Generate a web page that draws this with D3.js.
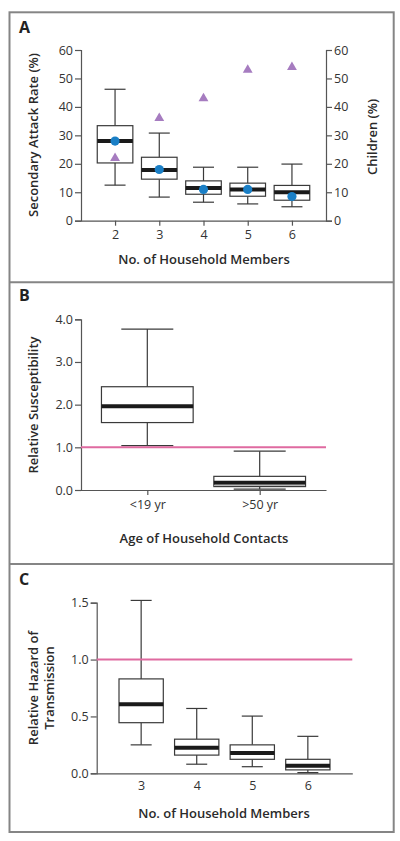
<!DOCTYPE html>
<html><head><meta charset="utf-8">
<script src="https://cdn.jsdelivr.net/npm/d3@7"></script>
<style>body{margin:0;background:#fff;} svg{display:block;} text{font-family:"Open Sans",Lato,sans-serif;fill:#333;}</style>
</head><body><svg id="c" width="400" height="841"></svg>
<script>
// Panel A data
const aCats = ["2","3","4","5","6"];
const aWhiskLo = [12.5, 8.3, 6.5, 5.9, 4.9];
const aQ1 = [20.3, 14.6, 9.3, 8.6, 7.2];
const aMed = [28, 17.8, 11.5, 11, 10];
const aQ3 = [33.4, 22.3, 14, 13.2, 12.4];
const aWhiskHi = [46.2, 30.8, 18.8, 18.8, 19.9];
const aDots = [28, 18, 11, 11, 8.5];
const aChildren = [22, 36, 43, 53, 54];
const aTicks = [0,10,20,30,40,50,60];
// Panel B data
const bCats = ["<19 yr", ">50 yr"];
const bWhiskLo = [1.04, 0.02];
const bQ1 = [1.58, 0.08];
const bMed = [1.96, 0.17];
const bQ3 = [2.42, 0.32];
const bWhiskHi = [3.77, 0.91];
const bTicks = [0,1,2,3,4];
// Panel C data
const cCats = ["3","4","5","6"];
const cWhiskLo = [0.25, 0.08, 0.058, 0.006];
const cQ1 = [0.445, 0.16, 0.123, 0.03];
const cMed = [0.607, 0.225, 0.178, 0.067];
const cQ3 = [0.83, 0.30, 0.25, 0.123];
const cWhiskHi = [1.52, 0.57, 0.503, 0.325];
const cTicks = [0, 0.5, 1.0, 1.5];

const svg = d3.select("#c");
const boxStroke = "#3a3a3a";
const pink = "#df6aa0";
const titleSize = 13, tickSize = 12.5;

// outer frame
const frame = svg.append("g").attr("fill","none").attr("stroke","#858585").attr("stroke-width",2);
frame.append("rect").attr("x",9.5).attr("y",12.3).attr("width",384.2).attr("height",819.7);
frame.append("line").attr("x1",9.5).attr("x2",393.7).attr("y1",282.3).attr("y2",282.3);
frame.append("line").attr("x1",9.5).attr("x2",393.7).attr("y1",564).attr("y2",564);

function panelLabel(t, y){
  svg.append("text").attr("x",19).attr("y",y).attr("font-weight","bold").attr("font-size",16).style("fill","#222").text(t);
}

function boxes(g, cats, x, y, lo, q1, med, q3, hi, bw, capw){
  cats.forEach((c,i)=>{
    const cx = x(c);
    g.append("line").attr("x1",cx).attr("x2",cx).attr("y1",y(hi[i])).attr("y2",y(q3[i])).attr("stroke",boxStroke).attr("stroke-width",1.2);
    g.append("line").attr("x1",cx).attr("x2",cx).attr("y1",y(q1[i])).attr("y2",y(lo[i])).attr("stroke",boxStroke).attr("stroke-width",1.2);
    g.append("line").attr("x1",cx-capw/2).attr("x2",cx+capw/2).attr("y1",y(hi[i])).attr("y2",y(hi[i])).attr("stroke",boxStroke).attr("stroke-width",1.2);
    g.append("line").attr("x1",cx-capw/2).attr("x2",cx+capw/2).attr("y1",y(lo[i])).attr("y2",y(lo[i])).attr("stroke",boxStroke).attr("stroke-width",1.2);
    g.append("rect").attr("x",cx-bw/2).attr("width",bw).attr("y",y(q3[i])).attr("height",y(q1[i])-y(q3[i])).attr("fill","#fff").attr("stroke",boxStroke).attr("stroke-width",1.2);
    g.append("line").attr("x1",cx-bw/2).attr("x2",cx+bw/2).attr("y1",y(med[i])).attr("y2",y(med[i])).attr("stroke","#1a1a1a").attr("stroke-width",4);
  });
}

function styleAxis(g){
  g.selectAll(".domain").attr("stroke","#555").attr("stroke-width",1.2);
  g.selectAll(".tick line").attr("stroke","#555").attr("stroke-width",1.2);
  g.selectAll(".tick text").attr("font-size",tickSize).style("fill","#333");
}
function title(g, x, y, rot, txt){
  const t = g.append("text").attr("transform",`translate(${x},${y})`+(rot?" rotate(-90)":"")).attr("text-anchor","middle").attr("font-weight",600).attr("font-size",titleSize).style("fill","#2a2a2a");
  return t.text(txt);
}

// ---------- Panel A ----------
panelLabel("A", 33);
{
  const x = d3.scalePoint().domain(aCats).range([81,326]).padding(0.77);
  const y = d3.scaleLinear().domain([0,60]).range([220.7,50]);
  const g = svg.append("g");
  const ya = g.append("g").attr("transform","translate(81,0)").call(d3.axisLeft(y).tickValues(aTicks).tickSize(6).tickPadding(2).tickFormat(d3.format("d")));
  styleAxis(ya);
  const yr = g.append("g").attr("transform","translate(326,0)").call(d3.axisRight(y).tickValues(aTicks).tickSize(6).tickPadding(2).tickFormat(d3.format("d")));
  styleAxis(yr);
  const xa = g.append("g").attr("transform","translate(0,220.7)").call(d3.axisBottom(x).tickSize(5).tickPadding(4).tickSizeOuter(0));
  styleAxis(xa);
  boxes(g, aCats, x, y, aWhiskLo, aQ1, aMed, aQ3, aWhiskHi, 35.6, 21);
  const tri = d3.symbol().type(d3.symbolTriangle).size(42);
  g.selectAll(".tri").data(aChildren).join("path").attr("transform",(d,i)=>`translate(${x(aCats[i])},${y(d)})`).attr("d",tri).attr("fill","#a67cc0");
  g.selectAll(".dot").data(aDots).join("circle").attr("cx",(d,i)=>x(aCats[i])).attr("cy",d=>y(d)).attr("r",4.6).attr("fill","#1a7fc6");
  title(g, 38, 135, true, "Secondary Attack Rate (%)");
  title(g, 377, 137, true, "Children (%)");
  title(g, 204, 264, false, "No. of Household Members");
}

// ---------- Panel B ----------
panelLabel("B", 301);
{
  const x = d3.scalePoint().domain(bCats).range([81,326]).padding(0.59);
  const y = d3.scaleLinear().domain([0,4]).range([490,319.3]);
  const g = svg.append("g");
  const ya = g.append("g").attr("transform","translate(81,0)").call(d3.axisLeft(y).tickValues(bTicks).tickSize(6).tickPadding(2).tickFormat(d3.format(".1f")));
  styleAxis(ya);
  const xa = g.append("g").attr("transform","translate(0,490)").call(d3.axisBottom(x).tickSize(5).tickPadding(5).tickSizeOuter(0));
  styleAxis(xa);
  boxes(g, bCats, x, y, bWhiskLo, bQ1, bMed, bQ3, bWhiskHi, 91.7, 52);
  g.append("rect").attr("x",x(bCats[1])-91.7/2+0.6).attr("width",91.7-1.2).attr("y",y(bMed[1])+2).attr("height",Math.max(0,y(bQ1[1])-y(bMed[1])-2.6)).attr("fill","#b8b8b8");
  g.append("line").attr("x1",81).attr("x2",326).attr("y1",y(1)).attr("y2",y(1)).attr("stroke",pink).attr("stroke-width",2);
  title(g, 38, 405, true, "Relative Susceptibility");
  title(g, 204, 543, false, "Age of Household Contacts");
}

// ---------- Panel C ----------
panelLabel("C", 585);
{
  const x = d3.scalePoint().domain(cCats).range([96.7,352.3]).padding(0.8);
  const y = d3.scaleLinear().domain([0,1.5]).range([773.3,602.7]);
  const g = svg.append("g");
  const ya = g.append("g").attr("transform","translate(96.7,0)").call(d3.axisLeft(y).tickValues(cTicks).tickSize(6).tickPadding(2).tickFormat(d3.format(".1f")));
  styleAxis(ya);
  const xa = g.append("g").attr("transform","translate(0,773.3)").call(d3.axisBottom(x).tickSize(0).tickPadding(8).tickSizeOuter(0));
  styleAxis(xa);
  boxes(g, cCats, x, y, cWhiskLo, cQ1, cMed, cQ3, cWhiskHi, 44.3, 21);
  g.append("line").attr("x1",96.7).attr("x2",352.3).attr("y1",y(1)).attr("y2",y(1)).attr("stroke",pink).attr("stroke-width",2);
  const t = g.append("text").attr("transform","translate(0,688) rotate(-90)").attr("text-anchor","middle").attr("font-weight",600).attr("font-size",titleSize).style("fill","#2a2a2a");
  t.append("tspan").attr("x",0).attr("y",38).text("Relative Hazard of");
  t.append("tspan").attr("x",0).attr("y",54).text("Transmission");
  title(g, 224, 818, false, "No. of Household Members");
}
</script></body></html>
